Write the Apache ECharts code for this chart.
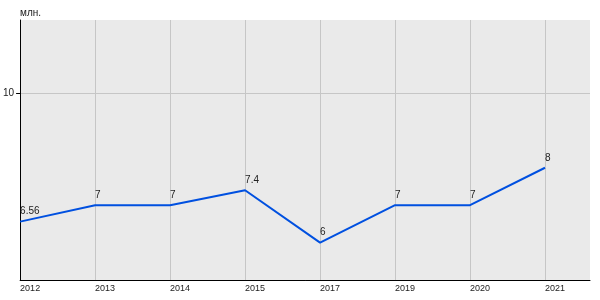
<!DOCTYPE html>
<html>
<head>
<meta charset="utf-8">
<script src="https://cdn.jsdelivr.net/npm/echarts@6/dist/echarts.min.js"></script>
<style>html,body{margin:0;padding:0;background:#fff}#c{width:600px;height:300px}</style>
</head>
<body>
<div id="c"></div>
<script>
var years = ['2012','2013','2014','2015','2017','2019','2020','2021'];
var values = [6.56, 7, 7, 7.4, 6, 7, 7, 8];
var yTicks = [10];
var unitName = 'млн.';

var chart = echarts.init(document.getElementById('c'), null, {renderer: 'canvas'});
var font = 'Liberation Sans, Arial, sans-serif';
chart.setOption({
  animation: false,
  grid: {left: 20, right: 10, top: 20, bottom: 20, show: true, backgroundColor: '#eaeaea', borderWidth: 0},
  xAxis: {
    type: 'value', min: 0, max: 7.6, interval: 1,
    axisLine: {show: true, lineStyle: {color: '#000', width: 1}},
    axisTick: {show: false},
    axisLabel: {
      margin: 4, fontSize: 9, color: '#222', fontFamily: font,
      padding: [0, 0, 0, 20],
      showMaxLabel: false, hideOverlap: false,
      formatter: function (v) { return (Math.abs(v - Math.round(v)) < 1e-6 && years[Math.round(v)]) ? years[Math.round(v)] : ''; }
    },
    splitLine: {show: true, showMaxLine: false, lineStyle: {color: '#c6c6c6', width: 1}}
  },
  yAxis: {
    type: 'value', min: 5, max: 11.95,
    name: unitName, nameLocation: 'end', nameGap: 2,
    nameTextStyle: {align: 'left', fontSize: 10, color: '#222', fontFamily: font},
    axisLine: {show: true, lineStyle: {color: '#000', width: 1}},
    axisTick: {show: true, length: 4, customValues: yTicks, lineStyle: {color: '#000'}},
    axisLabel: {customValues: yTicks, margin: 6, fontSize: 10, color: '#222', fontFamily: font, padding: [0, 0, 7, 0]},
    splitLine: {show: true, lineStyle: {color: '#c6c6c6', width: 1}}
  },
  series: [{
    type: 'line',
    data: values.map(function (v, i) { return [i, v]; }),
    showSymbol: true, symbol: 'circle', symbolSize: 0,
    lineStyle: {color: '#0050e0', width: 2},
    itemStyle: {color: '#0050e0'},
    label: {show: true, position: 'top', align: 'left', distance: 5, fontSize: 10, color: '#222', fontFamily: font},
    labelLayout: {hideOverlap: false},
    clip: false
  }]
});
</script>
</body>
</html>
